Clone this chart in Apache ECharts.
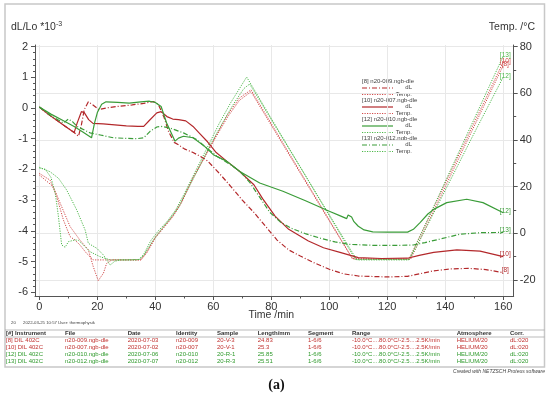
<!DOCTYPE html>
<html><head><meta charset="utf-8">
<script src="https://cdn.jsdelivr.net/npm/echarts/dist/echarts.min.js"></script>
<style>html,body{margin:0;padding:0;background:#fff;}#c{width:550px;height:397px;}</style>
</head><body><div id="c"></div>
<script>
// ---- data ----
var tD8 = [0,3,6,9,12,13.5,14.5,15.5,16.9,18.5,20.5,23,27,32,36,39.3,41,43,44.5,46.5,48,50,53,56,58,62,66,70,74,78,82,86,90,95,100,105,110,120,127,131,136,142,148,154,160];
var vD8 = [0.03,-0.2,-0.4,-0.6,-0.8,-0.92,-0.55,-0.05,0.2,0.1,-0.05,0.0,0.05,0.1,0.15,0.21,0.12,-0.3,-0.75,-1.12,-1.2,-1.33,-1.45,-1.6,-1.72,-2.12,-2.55,-3.0,-3.4,-3.85,-4.3,-4.62,-4.82,-5.05,-5.25,-5.4,-5.47,-5.5,-5.48,-5.4,-5.3,-5.24,-5.22,-5.26,-5.36];
var tD10 = [0,3,6,9,12,13,14.5,15.5,17,18.5,22,26,30,34,36,38,40.5,42,44,46,48,50.5,53,55,58,61,64.6,69,74,77,81.3,86,92.8,98,104,110,118,127,131,136,144,152,160];
var vD10 = [0.03,-0.2,-0.4,-0.6,-0.8,-0.5,-0.12,-0.15,-0.38,-0.5,-0.52,-0.55,-0.58,-0.6,-0.6,-0.4,-0.16,-0.12,-0.28,-0.36,-0.38,-0.42,-0.6,-0.8,-1.1,-1.45,-1.73,-2.06,-2.5,-2.95,-3.52,-3.95,-4.33,-4.55,-4.71,-4.87,-4.9,-4.89,-4.8,-4.7,-4.62,-4.66,-4.84];
var tD12 = [0,4,8,12,15,18,19,20,21.5,23,27,31,35,38,40,42,43.9,46.8,48,49.7,53,57,60,64.6,69,76,84,92,100,104,106,106.5,107,107.7,108.5,110,112,115,120,127,129,131.3,134,136,140.5,147.4,153,160];
var vD12 = [0.03,-0.2,-0.4,-0.6,-0.78,-0.97,-0.5,-0.15,0.12,0.2,0.18,0.16,0.2,0.22,0.18,0.05,-0.49,-1.08,-0.98,-0.92,-0.97,-1.25,-1.52,-1.73,-2.06,-2.44,-2.71,-3.03,-3.36,-3.52,-3.6,-3.48,-3.45,-3.55,-3.7,-3.85,-3.97,-4.03,-4.04,-4.04,-3.95,-3.73,-3.45,-3.3,-3.08,-2.97,-3.08,-3.41];
var tD13 = [0,4,8.3,10,11.5,13,17.5,21,25.5,30,33.6,36,38.2,40.5,42,45,49.7,54.3,57.7,61.2,65.8,69.2,72.7,76.1,79.5,83,87,92,97,102,107,115,124,129,133,138,145,152,160];
var vD13 = [0.03,-0.25,-0.49,-0.36,-0.45,-0.6,-0.81,-0.88,-0.97,-0.99,-1.0,-0.97,-0.76,-0.62,-0.6,-0.65,-0.81,-1.03,-1.3,-1.57,-1.84,-2.06,-2.44,-2.92,-3.4,-3.7,-3.92,-4.1,-4.24,-4.36,-4.44,-4.47,-4.47,-4.46,-4.38,-4.27,-4.11,-4.06,-4.05];

var tT8 = [0,4.8,7.7,10.6,14,16.9,18.6,20.3,22.1,23.2,25,35,37,40,43,46,49,53,57,61,65,69,73,76.5,82,88,94,100,105,108,118,128,130.5,134.5,138.5,142.5,146.5,150.5,155,160];
var vT8 = [25,20,11.4,2.9,-2.9,-7.1,-14.3,-20.3,-17.1,-12.9,-11.4,-11.4,-8.5,-2,2.5,7,13,23.5,32.5,41.5,50,57,60.7,53.5,42.2,29.9,17.6,5.3,-4.9,-11,-11.2,-11.2,-4.7,5.7,16.1,26.5,36.9,47.3,59,72];
var tT10 = [0,3.7,6,8.3,10.6,12.3,14,16.3,18.6,25,35,37,40,43,46,49,53,57,61,65,69,73,76,82,88,94,100,105,108,118,127.5,130,134,138,142,146,150,155,160];
var vT10 = [25.7,22.8,15.7,5.7,-1.4,-2.9,-5,-8.6,-11.4,-11.4,-11.4,-8,-1.5,3,7.5,13.5,24,33,42,51,58,61.5,55.3,42.9,30.5,18.1,5.7,-4.6,-10.8,-11,-11,-4.5,5.9,16.3,26.7,37.1,47.5,60.5,73.5];
var tT12 = [0,2,4,5.5,6.5,7.7,8.9,10,12,13.4,15.2,17.5,20.9,24.4,30,34.5,36,38.5,41,44,47,50,54,58,62,66,69.5,71.5,74,78,84,90,96,102,106,109,115,122,127.5,130,134,138,142,146,150,155,160];
var vT12 = [28,27.5,24,17,8,-5,-6,-3.6,-2.9,-2.9,-5,-7.9,-10,-11.4,-11.4,-11.2,-9,-3,1,5,10,17,27,37,47,56,63,67,61.8,53.4,40.9,28.4,15.9,3.4,-5,-11.2,-11.2,-11.2,-11.2,-6,3.8,13.6,23.4,33.2,43,55,67];
var tT13 = [0,3.7,6.6,9.4,12.9,15.8,16.9,19.8,22.1,24.4,26,27.8,34,36,39,42,45,48,51,55,59,63,67,70.5,72.5,75,80,86,92,98,104,107,109.5,118,127.5,130,134,138,142,146,150,155,160];
var vT13 = [28.3,26.4,23.6,18.6,10,1.4,-4.3,-6.4,-9.3,-13.6,-12,-11.4,-11.4,-9.5,-3.5,1.5,6,11,18.5,28,38,47,55.5,62,64,59,48.7,36.5,24.3,12,-0.2,-6.3,-11.4,-11.4,-11.4,-4.7,6.1,16.8,27.6,38.4,49.1,62.6,76];

var xTicks = [0, 20, 40, 60, 80, 100, 120, 140, 160];
var yLeftTicks = [-6, -5, -4, -3, -2, -1, 0, 1, 2];
var yRightTicks = [-20, 0, 20, 40, 60, 80];

var sampleIds = ['[8]', '[10]', '[12]', '[13]'];
var legendTitles = ['[8] n20-009.ngb-dle', '[10] n20-007.ngb-dle', '[12] n20-010.ngb-dle', '[13] n20-012.ngb-dle'];
var tableHeader = ['[#] Instrument', 'File', 'Date', 'Identity', 'Sample', 'Length/mm', 'Segment', 'Range', 'Atmosphere', 'Corr.'];
var tableRows = [
  ['[8] DIL 402C', 'n20-009.ngb-dle', '2020-07-03', 'n20-009', '20-V-3', '24.83', '1-6/6', '-10.0\u00b0C....80.0\u00b0C/-2.5....2.5K/min', 'HELIUM/20', 'dL:020'],
  ['[10] DIL 402C', 'n20-007.ngb-dle', '2020-07-02', 'n20-007', '20-V-1', '25.3', '1-6/6', '-10.0\u00b0C....80.0\u00b0C/-2.5....2.5K/min', 'HELIUM/20', 'dL:020'],
  ['[12] DIL 402C', 'n20-010.ngb-dle', '2020-07-06', 'n20-010', '20-R-1', '25.85', '1-6/6', '-10.0\u00b0C....80.0\u00b0C/-2.5....2.5K/min', 'HELIUM/20', 'dL:020'],
  ['[13] DIL 402C', 'n20-012.ngb-dle', '2020-07-07', 'n20-012', '20-R-3', '25.51', '1-6/6', '-10.0\u00b0C....80.0\u00b0C/-2.5....2.5K/min', 'HELIUM/20', 'dL:020']
];

// ---- styles ----
var RED = '#b3282b', GREEN = '#3a9c38', REDT = '#d24a4a', GREENT = '#4db84a';
var colors = [RED, RED, GREEN, GREEN];
var tcolors = [REDT, REDT, GREENT, GREENT];
var dashDot = [5, 2, 1, 2];
var dlTypes = [dashDot, 'solid', 'solid', dashDot];
var dotted = [1.2, 1.3];
var FONT = 'Liberation Sans, Arial, sans-serif';

function build(ts, vs, lab, color, dx, dy) {
  return ts.map(function (t, i) {
    if (i === ts.length - 1) {
      return { value: [t, vs[i]], label: { show: true, formatter: lab, position: 'inside', offset: [dx, dy], fontSize: 6.5, color: color, fontFamily: FONT } };
    }
    return [t, vs[i]];
  });
}

var dlT = [tD8, tD10, tD12, tD13], dlV = [vD8, vD10, vD12, vD13];
var tpT = [tT8, tT10, tT12, tT13], tpV = [vT8, vT10, vT12, vT13];
var series = [];
for (var k = 0; k < 4; k++) {
  series.push({
    type: 'line', xAxisIndex: 0, yAxisIndex: 1, data: build(tpT[k], tpV[k], sampleIds[k], tcolors[k], 2, -1),
    symbol: 'circle', symbolSize: 0, showSymbol: true, showAllSymbol: true, silent: true,
    lineStyle: { color: tcolors[k], width: 1, type: dotted }, itemStyle: { color: tcolors[k] }, z: 2
  });
}
for (var k2 = 0; k2 < 4; k2++) {
  series.push({
    type: 'line', xAxisIndex: 0, yAxisIndex: 0, data: build(dlT[k2], dlV[k2], sampleIds[k2], colors[k2], 2, -2),
    symbol: 'circle', symbolSize: 0, showSymbol: true, showAllSymbol: true, silent: true,
    lineStyle: { color: colors[k2], width: 1.2, type: dlTypes[k2] }, itemStyle: { color: colors[k2] }, z: 3
  });
}
// helper series on tick grids (invisible)
series.push({ type: 'line', xAxisIndex: 1, yAxisIndex: 2, data: [], silent: true });
series.push({ type: 'line', xAxisIndex: 2, yAxisIndex: 3, data: [], silent: true });
series.push({ type: 'line', xAxisIndex: 3, yAxisIndex: 4, data: [], silent: true });

// ---- graphic: titles, legend, table ----
var g = [];
g.push({ type: 'rect', shape: { x: 5, y: 4, width: 539.5, height: 363 }, style: { fill: 'none', stroke: '#c8c8c8', lineWidth: 1.5 }, z: 0 });
g.push({ type: 'text', x: 11, y: 27, style: { text: '{a|dL/Lo *10}{b|-3}', rich: { a: { fontSize: 10.5, fontFamily: FONT, fill: '#333', verticalAlign: 'middle' }, b: { fontSize: 7, fontFamily: FONT, fill: '#333', verticalAlign: 'bottom', padding: [0, 0, 5, 0] } }, verticalAlign: 'middle' } });
g.push({ type: 'text', x: 535, y: 27, style: { text: 'Temp. /\u00b0C', fontSize: 10.5, fontFamily: FONT, fill: '#333', align: 'right', verticalAlign: 'middle' } });
// legend
for (var i = 0; i < 4; i++) {
  var by = 81 + i * 19;
  g.push({ type: 'text', x: 362, y: by, style: { text: legendTitles[i], fontSize: 6, fontFamily: FONT, fill: '#444', verticalAlign: 'middle' } });
  g.push({ type: 'line', shape: { x1: 362, y1: by + 7, x2: 393, y2: by + 7 }, style: { stroke: colors[i], lineWidth: 1.2, lineDash: dlTypes[i] === 'solid' ? null : dashDot } });
  g.push({ type: 'text', x: 412, y: by + 6.5, style: { text: 'dL', fontSize: 6, fontFamily: FONT, fill: '#444', align: 'right', verticalAlign: 'middle' } });
  g.push({ type: 'line', shape: { x1: 362, y1: by + 13.5, x2: 393, y2: by + 13.5 }, style: { stroke: tcolors[i], lineWidth: 1, lineDash: dotted } });
  g.push({ type: 'text', x: 412, y: by + 13.5, style: { text: 'Temp.', fontSize: 6, fontFamily: FONT, fill: '#444', align: 'right', verticalAlign: 'middle' } });
}
// info line
g.push({ type: 'text', x: 11, y: 322.5, style: { text: '20', fontSize: 4.3, fontFamily: FONT, fill: '#444', verticalAlign: 'middle' } });
g.push({ type: 'text', x: 23, y: 322.5, style: { text: '2022-03-25 10:57', fontSize: 4.3, fontFamily: FONT, fill: '#444', verticalAlign: 'middle' } });
g.push({ type: 'text', x: 58, y: 322.5, style: { text: 'User: thermophysik', fontSize: 4.3, fontFamily: FONT, fill: '#444', verticalAlign: 'middle' } });
// table
g.push({ type: 'line', shape: { x1: 5, y1: 330, x2: 544.5, y2: 330 }, style: { stroke: '#aaa', lineWidth: 0.8 } });
g.push({ type: 'line', shape: { x1: 5, y1: 337, x2: 544.5, y2: 337 }, style: { stroke: '#aaa', lineWidth: 0.8 } });
var colX = [6, 65, 127.7, 176, 217, 257.7, 308, 352, 456.7, 510];
for (var c = 0; c < tableHeader.length; c++) {
  g.push({ type: 'text', x: colX[c], y: 333.7, style: { text: tableHeader[c], fontSize: 6, fontWeight: 'bold', fontFamily: FONT, fill: '#333', verticalAlign: 'middle' } });
}
for (var r = 0; r < tableRows.length; r++) {
  for (var c2 = 0; c2 < tableRows[r].length; c2++) {
    g.push({ type: 'text', x: colX[c2], y: 340.8 + r * 7, style: { text: tableRows[r][c2], fontSize: 6, fontFamily: FONT, fill: r < 2 ? '#c0302e' : '#2f9a2c', verticalAlign: 'middle' } });
  }
}
g.push({ type: 'text', x: 545, y: 372, style: { text: 'Created with NETZSCH Proteus software', fontSize: 5, fontStyle: 'italic', fontFamily: FONT, fill: '#444', align: 'right', verticalAlign: 'middle' } });
g.push({ type: 'text', x: 276.5, y: 385, style: { text: '(a)', fontSize: 14, fontWeight: 'bold', fontFamily: 'Liberation Serif, Times New Roman, serif', fill: '#111', align: 'center', verticalAlign: 'middle' } });

var AX = '#555';
var option = {
  animation: false,
  backgroundColor: '#fff',
  grid: [
    { left: 35, right: 36.3, top: 45, bottom: 101 },
    { left: 39.3, right: 46.7, top: 45, bottom: 101 },
    { left: 35, right: 36.3, top: 46.5, bottom: 104.7 },
    { left: 35, right: 36.3, top: 46.7, bottom: 117 }
  ],
  xAxis: [
    { gridIndex: 0, type: 'value', min: -1.5, max: 163.6, axisLine: { show: true, onZero: false, lineStyle: { color: AX, width: 1 } }, axisTick: { show: false }, axisLabel: { show: false }, splitLine: { show: false } },
    { gridIndex: 1, type: 'value', min: 0, max: 160, interval: 20, axisLine: { show: false, onZero: false },
      axisTick: { show: true, length: 4, lineStyle: { color: AX } }, minorTick: { show: true, splitNumber: 2, length: 2.5, lineStyle: { color: AX } },
      axisLabel: { fontSize: 11, color: '#333', margin: 5, fontFamily: FONT, customValues: xTicks },
      splitLine: { show: true, lineStyle: { color: '#e8e8e8', width: 1 } },
      name: 'Time /min', nameLocation: 'middle', nameGap: 14, nameMoveOverlap: false, nameTextStyle: { fontSize: 10.5, color: '#333', fontFamily: FONT } },
    { gridIndex: 2, type: 'value', show: false, min: 0, max: 1 },
    { gridIndex: 3, type: 'value', show: false, min: 0, max: 1 }
  ],
  yAxis: [
    { gridIndex: 0, type: 'value', min: -6.12, max: 2.05, position: 'left', axisLine: { show: true, onZero: false, lineStyle: { color: AX, width: 1 } }, axisTick: { show: false }, axisLabel: { show: false }, splitLine: { show: false } },
    { gridIndex: 0, type: 'value', min: -26.87, max: 80.73, position: 'right', axisLine: { show: true, onZero: false, lineStyle: { color: AX, width: 1 } }, axisTick: { show: false }, axisLabel: { show: false }, splitLine: { show: false } },
    { gridIndex: 1, type: 'value', show: false, min: 0, max: 1 },
    { gridIndex: 2, type: 'value', min: -6, max: 2, interval: 1, position: 'left', axisLine: { show: false, onZero: false },
      axisTick: { show: true, length: 4, lineStyle: { color: AX } }, minorTick: { show: true, splitNumber: 5, length: 2, lineStyle: { color: AX } },
      axisLabel: { fontSize: 11, color: '#333', margin: 7, fontFamily: FONT, customValues: yLeftTicks }, splitLine: { show: false } },
    { gridIndex: 3, type: 'value', min: -20, max: 80, interval: 20, position: 'right', axisLine: { show: false, onZero: false },
      axisTick: { show: true, length: 4, lineStyle: { color: AX } }, minorTick: { show: true, splitNumber: 2, length: 2.5, lineStyle: { color: AX } },
      axisLabel: { fontSize: 11, color: '#333', margin: 6, fontFamily: FONT, customValues: yRightTicks },
      splitLine: { show: true, lineStyle: { color: '#e8e8e8', width: 1 } } }
  ],
  series: series,
  graphic: g
};
var chart = echarts.init(document.getElementById('c'), null, { renderer: 'canvas' });
chart.setOption(option);
</script>
</body></html>
